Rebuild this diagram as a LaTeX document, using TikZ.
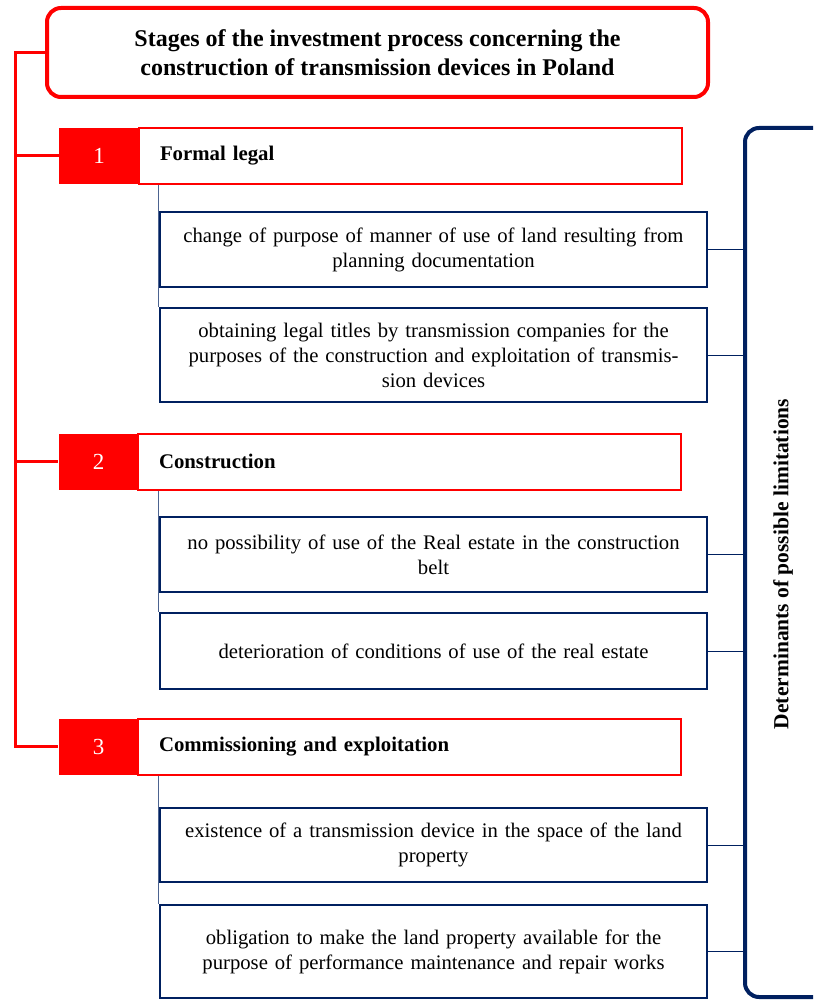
\documentclass[tikz,border=0pt]{standalone}
\usepackage{fontspec}
\setmainfont{Liberation Serif}
\usetikzlibrary{positioning}
\definecolor{navy}{HTML}{002060}
\definecolor{pured}{HTML}{FF0000}

\begin{document}
\begin{tikzpicture}[x=1pt, y=-1pt, font=\fontsize{20.7}{25}\selectfont,
  titlebox/.style={draw=pured, line width=4pt, rounded corners=14pt, align=center,
    minimum width=661pt, minimum height=89pt, font=\fontsize{24}{28.5}\selectfont\bfseries},
  numbox/.style={fill=pured, text=white, minimum width=80pt, minimum height=56pt, inner sep=0pt,
    font=\fontsize{23}{26}\selectfont},
  stagebox/.style={draw=pured, line width=2pt, minimum height=56pt, text width=501pt,
    inner xsep=21pt, align=left, font=\fontsize{20.8}{25}\selectfont\bfseries},
  itembox/.style={draw=navy, line width=2.5pt, align=center, text width=505pt,
    inner xsep=21pt, minimum height=#1},
  itembox/.default=75pt]
\useasboundingbox (0,0) rectangle (813,1000);
\clip (0,0) rectangle (813,1000);
% heading
\node[titlebox] (title) at (377.5,52.5) {Stages of the investment process concerning the\\construction of transmission devices in Poland};
% stages
\node[numbox] (n1) at (99,156) {1};
\node[stagebox] (s1) at (410.5,156) {Formal legal};
\node[numbox] (n2) at (98.5,461.5) {2};
\node[stagebox] (s2) at (409.5,461.5) {Construction};
\node[numbox] (n3) at (98.5,746.5) {3};
\node[stagebox] (s3) at (409.5,746.5) {Commissioning and exploitation};
% items
\node[itembox] (a) at (433.5,249.5) {change of purpose of manner of use of land resulting from\\planning documentation};
\node[itembox=94pt] (b) at (433.5,355) {obtaining legal titles by transmission companies for the\\purposes of the construction and exploitation of transmis-\\sion devices};
\node[itembox] (c) at (433.5,554.5) {no possibility of use of the Real estate in the construction\\belt};
\node[itembox=76pt] (d) at (433.5,651) {deterioration of conditions of use of the real estate};
\node[itembox=74pt] (e) at (433.5,845) {existence of a transmission device in the space of the land\\property};
\node[itembox=93pt] (f) at (433.5,951.5) {obligation to make the land property available for the\\purpose of performance maintenance and repair works};
% determinants
\node[draw=navy, line width=4pt, rounded corners=14pt, minimum width=90pt, minimum height=869pt] (det) at (790,562.5) {};
\node[rotate=90, font=\fontsize{21.5}{25}\selectfont\bfseries] (detlabel) at (783,564) {Determinants of possible limitations};
% connectors
\coordinate (spine) at (15,52.5);
\draw[pured, line width=3pt] (title.west) -- (spine) |- (n3.west);
\foreach \n in {n1,n2} {\draw[pured, line width=3pt] (\n.west -| spine) -- (\n.west);}
\draw[navy!70, line width=1pt] (s1.south -| a.west) -- (b.north -| a.west);
\draw[navy!70, line width=1pt] (s2.south -| c.west) -- (d.north -| c.west);
\draw[navy!70, line width=1pt] (s3.south -| e.west) -- (f.north -| e.west);
\foreach \b in {a,b,c,d,e,f} {\draw[navy, line width=1pt] (\b.east) -- (\b.east -| det.west);}
\end{tikzpicture}
\end{document}
